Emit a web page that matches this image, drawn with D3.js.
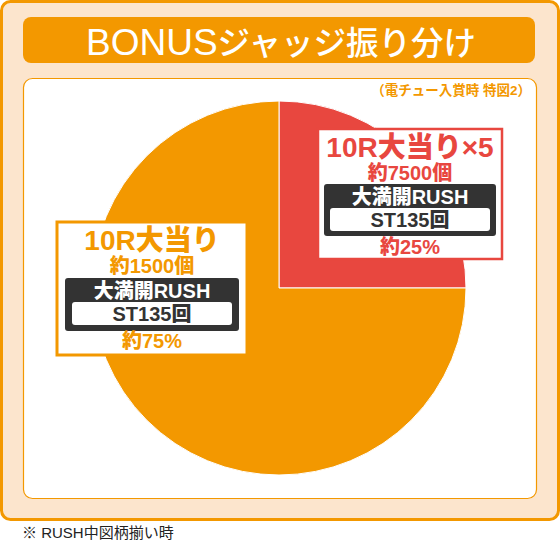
<!DOCTYPE html>
<html><head><meta charset="utf-8">
<script src="https://cdn.jsdelivr.net/npm/d3@7"></script>
<style>html,body{margin:0;padding:0;background:#fff;}svg{display:block;}</style>
</head><body>
<svg id="c" width="560" height="543"></svg>
<script>
// ---- data ----
const titleLatin = "BONUS";
const titleJp = "ジャッジ振り分け";
const note = "（電チュー入賞時 特図2）";
const footnote = "※ RUSH中図柄揃い時";
const categories = ["10R大当り×5", "10R大当り"];
const shares = [25, 75];
const shareLabels = ["約25%", "約75%"];
const payouts = ["約7500個", "約1500個"];
const rushNames = ["大満開RUSH", "大満開RUSH"];
const stLabels = ["ST135回", "ST135回"];
const colors = ["#E8473F", "#F39800"];

const ORANGE = "#F39800";
const JP = "'Liberation Sans','Noto Sans CJK JP',sans-serif";
const svg = d3.select("#c");

// frame
svg.append("rect").attr("x",1.5).attr("y",1.5).attr("width",557).attr("height",518)
  .attr("rx",9).attr("fill","#FCE5CD").attr("stroke",ORANGE).attr("stroke-width",3);
svg.append("rect").attr("x",23).attr("y",17).attr("width",512).attr("height",46)
  .attr("rx",8).attr("fill",ORANGE);
const tt = svg.append("text").attr("x",281).attr("y",55).attr("text-anchor","middle")
  .attr("font-family",JP).attr("font-weight",400).attr("fill","#fff");
tt.append("tspan").attr("font-size",37).text(titleLatin);
tt.append("tspan").attr("font-size",32.5).attr("font-weight",500).text(titleJp);
svg.append("rect").attr("x",23.5).attr("y",78.5).attr("width",513).attr("height",420)
  .attr("rx",9).attr("fill","#fff").attr("stroke",ORANGE).attr("stroke-width",1.2);
svg.append("text").attr("x",531).attr("y",95).attr("text-anchor","end")
  .attr("font-family",JP).attr("font-weight",700).attr("font-size",13.5)
  .attr("fill",ORANGE).text(note);

// pie
const cx = 279, cy = 288, R = 187;
const pie = d3.pie().sort(null).value(d => d)(shares);
const arc = d3.arc().innerRadius(0).outerRadius(R);
svg.append("g").attr("transform",`translate(${cx},${cy})`)
  .selectAll("path").data(pie).join("path")
  .attr("d",arc).attr("fill",(d,i)=>colors[i])
  .attr("stroke","#fff").attr("stroke-width",1);

// labels
const boxes = [
  {x:318, y:129, w:184, h:130, sw:2.5, ty:157, py:180, dy:184, dh:52, dx:6, ry:204, iy:208, ih:23, ix:12, sy:227, shy:254},
  {x:57,  y:222, w:190, h:133, sw:3,   ty:250, py:273, dy:278, dh:53, dx:8, ry:298, iy:302, ih:23, ix:15, sy:321, shy:348}
];
const S = 20;
boxes.forEach((b,i)=>{
  const g = svg.append("g");
  const mid = b.x + b.w/2;
  g.append("rect").attr("x",b.x).attr("y",b.y).attr("width",b.w).attr("height",b.h)
    .attr("fill","#fff").attr("stroke",colors[i]).attr("stroke-width",b.sw);
  g.append("text").attr("x",mid).attr("y",b.ty).attr("text-anchor","middle")
    .attr("font-family",JP).attr("font-weight",900).attr("font-size",28)
    .attr("fill",colors[i]).text(categories[i]);
  g.append("text").attr("x",mid).attr("y",b.py).attr("text-anchor","middle")
    .attr("font-family",JP).attr("font-weight",900).attr("font-size",S)
    .attr("fill",colors[i]).text(payouts[i]);
  g.append("rect").attr("x",b.x+b.dx).attr("y",b.dy).attr("width",b.w-2*b.dx).attr("height",b.dh)
    .attr("rx",3).attr("fill","#333");
  g.append("text").attr("x",mid).attr("y",b.ry).attr("text-anchor","middle")
    .attr("font-family",JP).attr("font-weight",900).attr("font-size",S)
    .attr("fill","#fff").text(rushNames[i]);
  g.append("rect").attr("x",b.x+b.ix).attr("y",b.iy).attr("width",b.w-2*b.ix).attr("height",b.ih)
    .attr("rx",3).attr("fill","#fff");
  g.append("text").attr("x",mid).attr("y",b.sy).attr("text-anchor","middle")
    .attr("font-family",JP).attr("font-weight",900).attr("font-size",S)
    .attr("fill","#333").text(stLabels[i]);
  g.append("text").attr("x",mid).attr("y",b.shy).attr("text-anchor","middle")
    .attr("font-family",JP).attr("font-weight",900).attr("font-size",S)
    .attr("fill",colors[i]).text(shareLabels[i]);
});

svg.append("text").attr("x",22).attr("y",538)
  .attr("font-family",JP).attr("font-weight",400).attr("font-size",15)
  .attr("fill","#222").text(footnote);
</script>
</body></html>
